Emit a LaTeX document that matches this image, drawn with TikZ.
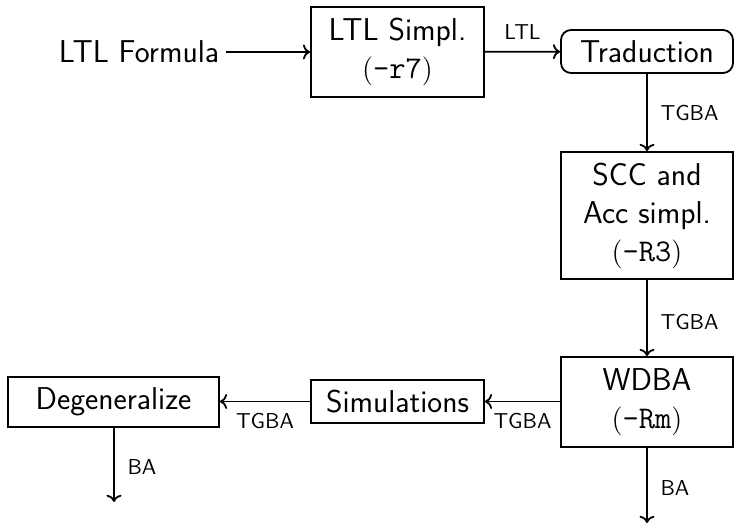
\documentclass[tikz,border=0pt]{standalone}
\usepackage{fontspec}
\usetikzlibrary{arrows.meta}
\begin{document}
\begin{tikzpicture}[x=0.5pt,y=-0.5pt,
  font=\sffamily\fontsize{15.8}{19}\selectfont,
  lbl/.style={font=\sffamily\fontsize{10.8}{12}\selectfont},
  box/.style={draw,line width=0.9pt,align=center,inner sep=0pt},
  flow/.style={->,line width=0.9pt}]
\useasboundingbox (0,0) rectangle (734,523);
% processing stages
\node (ltl) at (139,52) {LTL Formula};
\node[box,minimum width=86.5pt,minimum height=45pt] (simpl) at (397.5,52)
  {LTL Simpl.\\$(\texttt{-r7})$};
\node[box,rounded corners=5pt,minimum width=86pt,minimum height=21.5pt] (trad) at (647,51.5)
  {Traduction};
\node[box,minimum width=86pt,minimum height=63.5pt] (scc) at (647,215.5)
  {SCC and\\Acc simpl.\\$(\texttt{-R3})$};
\node[box,minimum width=86pt,minimum height=45pt] (wdba) at (647,402)
  {WDBA\\$(\texttt{-Rm})$};
\node[box,minimum width=86.5pt,minimum height=21.5pt] (sim) at (397.5,401.5)
  {Simulations};
\node[box,minimum width=105.5pt,minimum height=25pt] (deg) at (113.5,402)
  {Degeneralize};
\coordinate (out1) at (647,523);
\coordinate (out2) at (114,502);
% connectors
\draw[flow] (ltl) -- (simpl);
\draw[flow] (simpl) -- node[lbl,midway,above,yshift=2.5pt] {LTL} (trad);
\draw[flow] (trad) -- node[lbl,midway,right,xshift=3pt] {TGBA} (scc);
\draw[flow] (scc) -- node[lbl,midway,right,xshift=3pt,yshift=-2pt] {TGBA} (wdba);
\draw[flow] (wdba.south) -- node[lbl,pos=0.53,right,xshift=3pt] {BA} (out1);
\draw[flow] (wdba.west|-sim.east) -- node[lbl,midway,below,yshift=-2pt] {TGBA} (sim.east);
\draw[flow] (sim.west) -- node[lbl,midway,below,yshift=-2pt] {TGBA} (deg.east|-sim.west);
\draw[flow] (deg.south-|out2) -- node[lbl,pos=0.53,right,xshift=3pt] {BA} (out2);
\end{tikzpicture}
\end{document}
